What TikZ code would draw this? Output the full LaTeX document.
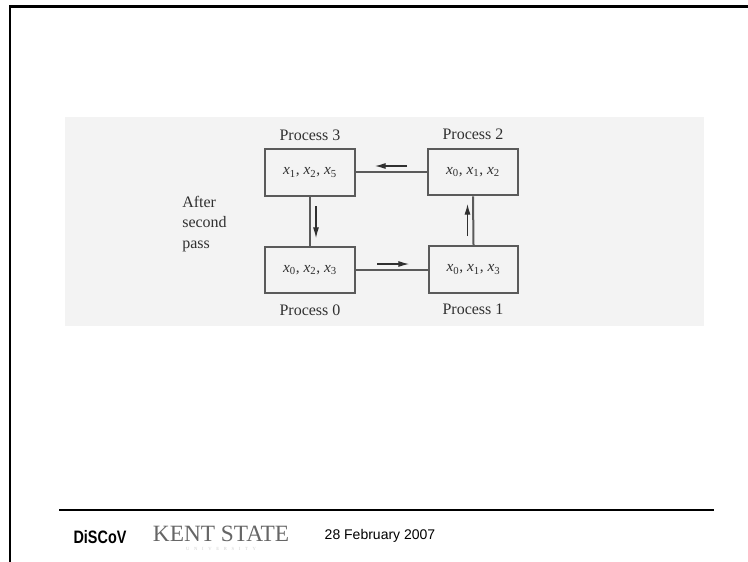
\documentclass[tikz,border=0pt]{standalone}
\usepackage{fontspec}
\setmainfont{Liberation Serif}
\setsansfont{Liberation Sans}
\newcommand{\xv}[1]{\textit{x}\textsubscript{#1}}
\definecolor{inkgray}{HTML}{303030}
\definecolor{linegray}{HTML}{5A5A5A}
\definecolor{scangray}{HTML}{F3F3F3}
\tikzset{
  procbox/.style={draw=linegray, line width=1.5pt, minimum width=67pt, minimum height=35pt,
    inner sep=0pt, text=inkgray, font=\fontsize{11.5}{14}\selectfont},
  proclabel/.style={text=inkgray, inner sep=0pt, font=\fontsize{12}{14}\selectfont},
  linkline/.style={draw=linegray, line width=1.5pt},
  flowarrow/.style={draw=inkgray, line width=0.8pt, -{Latex[length=8pt,width=4.5pt]}},
  frameline/.style={draw=black, line width=2.2pt}
}
\usetikzlibrary{arrows.meta}
\begin{document}
\begin{tikzpicture}[x=0.75pt, y=-0.75pt]
    \useasboundingbox (0,0) rectangle (748,561);
    \fill[white] (0,0) rectangle (748,561);
    \fill[scangray] (65,117) rectangle (704,326);

    % frame and footer rule
    \coordinate (frametop) at (748,6.5);
    \coordinate (framecorner) at (10,6.5);
    \coordinate (framebottom) at (10,561);
    \draw[frameline, line cap=rect] (frametop) -- (framecorner) -- (framebottom);
    \coordinate (ruleleft) at (59,510);
    \coordinate (ruleright) at (714,510);
    \draw[frameline] (ruleleft) -- (ruleright);

    % process boxes
    \node[procbox] (proc3) at (310,172.5) {\xv{1}, \xv{2}, \xv{5}};
    \node[procbox] (proc2) at (473,172) {\xv{0}, \xv{1}, \xv{2}};
    \node[procbox] (proc0) at (310,270) {\xv{0}, \xv{2}, \xv{3}};
    \node[procbox] (proc1) at (473.5,269.5) {\xv{0}, \xv{1}, \xv{3}};

    \node[proclabel] (label3) at (310,135) {Process 3};
    \node[proclabel] (label2) at (473,134) {Process 2};
    \node[proclabel] (label0) at (310,310) {Process 0};
    \node[proclabel] (label1) at (473,309) {Process 1};
    \node[proclabel, align=left] (passlabel) at (204.5,224)
      {After\\[1.5pt]second\\[1.5pt]pass};

    % links
    \draw[linkline] (proc2.west |- 0,172) -- (proc3.east |- 0,172);
    \draw[linkline] (proc3.south) -- (proc0.north);
    \draw[linkline] (proc0.east |- 0,269.5) -- (proc1.west |- 0,269.5);
    \draw[linkline] (proc1.north) -- (proc2.south);

    % direction of each send
    \coordinate (west a) at (407,166);
    \coordinate (west b) at (375,166);
    \coordinate (south a) at (316,206);
    \coordinate (south b) at (316,238);
    \coordinate (east a) at (377,264);
    \coordinate (east b) at (409,264);
    \coordinate (north a) at (467.5,236);
    \coordinate (north b) at (467.5,204);
    \draw[flowarrow] (west a) -- (west b);
    \draw[flowarrow] (south a) -- (south b);
    \draw[flowarrow] (east a) -- (east b);
    \draw[flowarrow] (north a) -- (north b);

    % footer
    \node[font=\sffamily\bfseries\fontsize{13.5}{16}\selectfont, xscale=0.8, inner sep=0pt] (discov) at (100,537) {DiSCoV};
    \node[font=\fontsize{17.5}{20}\selectfont, text=black!60, inner sep=0pt] (kent) at (221,533.5) {KENT STATE};
    \node[font=\fontsize{3.5}{4}\selectfont, text=black!18, inner sep=0pt] (univ) at (221,549) {U\quad N\quad I\quad V\quad E\quad R\quad S\quad I\quad T\quad Y};
    \node[font=\sffamily\fontsize{10.5}{13}\selectfont, inner sep=0pt] (datetext) at (380,536) {28 February 2007};
  \end{tikzpicture}
\end{document}
